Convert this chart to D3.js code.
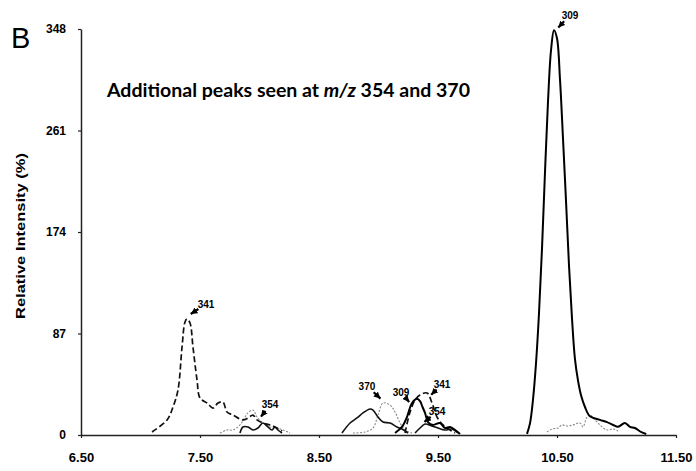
<!DOCTYPE html>
<html>
<head>
<meta charset="utf-8">
<script src="https://cdn.jsdelivr.net/npm/d3@7"></script>
<style>
  body { margin: 0; background: #fff; }
  .tick text { font-family: Arial, "Liberation Sans", sans-serif; font-weight: bold; }
</style>
</head>
<body>
<svg id="chart"></svg>
<script>
// tick values
var xTicks = [6.5, 7.5, 8.5, 9.5, 10.5, 11.5];
var yTicks = [0, 87, 174, 261, 348];

// traces, [time, relative intensity], null = gap
var mz309 = [
  [9.139, 1.7], [9.197, 6.9], [9.239, 15.4], [9.282, 27.4], [9.324, 31], [9.349, 29], [9.37, 24],
  [9.391, 18.9], [9.416, 11.1], [9.458, 8.6], [9.517, 10.3], [9.559, 6.0], [9.601, 6.9],
  [9.643, 4.3], [9.685, 0.9],
  null,
  [10.248, 1], [10.273, 10], [10.298, 30], [10.324, 62], [10.349, 105], [10.374, 160],
  [10.399, 225], [10.424, 285], [10.45, 330], [10.475, 347], [10.5, 340], [10.525, 305],
  [10.55, 255], [10.576, 200], [10.601, 145], [10.626, 100], [10.651, 65], [10.676, 47],
  [10.702, 34], [10.735, 24], [10.777, 16], [10.861, 13], [10.92, 11], [10.971, 8.6],
  [11.013, 7], [11.071, 10.3], [11.113, 7], [11.155, 6], [11.205, 2.6], [11.25, 0.9]
];
var mz341 = [
  [7.097, 2.6], [7.223, 12.9], [7.273, 24.0], [7.315, 38.6], [7.349, 75.4], [7.374, 96.8],
  [7.391, 99.4], [7.416, 96.0], [7.441, 75.4], [7.475, 47.1], [7.5, 31.7], [7.559, 27.4],
  [7.609, 23.1], [7.651, 27.4], [7.693, 28.3], [7.727, 19.7], [7.777, 17.1], [7.861, 12.9],
  [7.903, 14.6], [7.945, 17.1], [7.979, 12.9], [8.029, 10.3], [8.088, 8.6], [8.13, 6.9],
  [8.19, 3.4],
  null,
  [9.223, 1.7], [9.265, 19.7], [9.307, 30.0], [9.349, 34.3], [9.408, 36.0], [9.45, 27.4],
  [9.492, 15.4], [9.542, 8.6], [9.601, 4.3], [9.643, 1.7]
];
var mz354 = [
  [7.836, 1.7], [7.861, 6.9], [7.903, 6.9], [7.945, 4.3], [7.987, 6.0], [8.029, 10.3],
  [8.071, 6.9], [8.105, 4.3], [8.13, 6.9], [8.155, 4.3], [8.189, 1.7],
  null,
  [8.693, 1.7], [8.761, 10.3], [8.819, 14.6], [8.87, 18.9], [8.929, 22.3], [8.954, 21.4],
  [8.996, 15.4], [9.038, 11.1], [9.097, 10.3], [9.155, 6.9], [9.197, 5.1], [9.248, 1.7],
  null,
  [9.307, 1.7], [9.349, 6], [9.391, 9.4], [9.45, 7.7], [9.5, 6], [9.559, 4.3], [9.618, 5.1],
  [9.668, 1.7]
];
var mz370 = [
  [7.668, 1.7], [7.727, 4.3], [7.777, 4.3], [7.836, 8.6], [7.878, 15.4], [7.903, 18.9],
  [7.945, 21.4], [7.979, 15.4], [8.029, 10.3], [8.088, 6.9], [8.147, 6.0], [8.197, 4.3],
  [8.256, 1.7],
  null,
  [8.786, 1.7], [8.887, 2.6], [8.954, 6.0], [8.996, 17.1], [9.038, 27.4], [9.097, 25.7],
  [9.139, 19.7], [9.181, 10.3], [9.223, 4.3], [9.282, 1.7],
  null,
  [10.416, 2.6], [10.458, 5.1], [10.508, 6.0], [10.542, 8.6], [10.584, 7.7], [10.634, 8.6],
  [10.693, 10.3], [10.718, 6.9], [10.752, 15.4], [10.777, 17.1], [10.819, 12.9],
  [10.861, 8.6], [10.92, 4.3], [10.971, 5.1], [11.013, 3.4]
];

// peak labels: text, arrow tip (time, intensity), label offset in px
var annoText = ["341", "354", "370", "309", "341", "354", "309"];
var annoTime = [7.408, 8.004, 9.029, 9.265, 9.433, 9.374, 10.5];
var annoVal  = [102.8, 14.6, 30, 27.4, 33.4, 10.3, 348];
var annoDx   = [17, 10, -15, -9, 12, 14, 13];
var annoDy   = [-11, -13, -14, -11, -12, -11, -14];

var width = 696, height = 471;
var margin = {top: 29, right: 20, bottom: 36, left: 81};

var svg = d3.select("#chart")
    .attr("width", width)
    .attr("height", height);

var x = d3.scaleLinear()
    .domain([6.5, 11.5])
    .range([margin.left, 676]);

var y = d3.scaleLinear()
    .domain([0, 348])
    .range([height - margin.bottom, margin.top]);

var line = d3.line()
    .defined(function(d) { return d !== null; })
    .x(function(d) { return x(d[0]); })
    .y(function(d) { return y(d[1]); })
    .curve(d3.curveCatmullRom.alpha(0.5));

// axes
var xAxis = svg.append("g")
    .attr("transform", "translate(0," + y(0) + ")")
    .call(d3.axisBottom(x)
      .tickValues(xTicks)
      .tickFormat(d3.format(".2f"))
      .tickSize(3)
      .tickSizeOuter(0)
      .tickPadding(15));
xAxis.selectAll("text").style("font-size", "13px");

var yAxis = svg.append("g")
    .attr("transform", "translate(" + x(6.5) + ",0)")
    .call(d3.axisLeft(y)
      .tickValues(yTicks)
      .tickFormat(d3.format("d"))
      .tickSize(3)
      .tickSizeOuter(0)
      .tickPadding(12));
yAxis.selectAll("text").style("font-size", "12px");

svg.selectAll(".domain").style("stroke", "#222").style("stroke-width", 1.5);
svg.selectAll(".tick line").style("stroke", "#222").style("stroke-width", 1.2);

// traces
svg.append("path")
    .datum(mz370)
    .attr("d", line)
    .attr("fill", "none")
    .attr("stroke", "#888")
    .attr("stroke-width", 1.1)
    .attr("stroke-dasharray", "2,1.5");

svg.append("path")
    .datum(mz354)
    .attr("d", line)
    .attr("fill", "none")
    .attr("stroke", "#111")
    .attr("stroke-width", 1.6);

svg.append("path")
    .datum(mz341)
    .attr("d", line)
    .attr("fill", "none")
    .attr("stroke", "#111")
    .attr("stroke-width", 1.7)
    .attr("stroke-dasharray", "6,3");

svg.append("path")
    .datum(mz309)
    .attr("d", line)
    .attr("fill", "none")
    .attr("stroke", "#000")
    .attr("stroke-width", 2);

// arrow head
svg.append("defs").append("marker")
    .attr("id", "head")
    .attr("viewBox", "0 0 10 10")
    .attr("refX", 10)
    .attr("refY", 5)
    .attr("markerWidth", 3)
    .attr("markerHeight", 3)
    .attr("orient", "auto")
  .append("path")
    .attr("d", "M0,0L10,5L0,10z")
    .attr("fill", "#000");

var anno = annoText.map(function(t, i) {
  return {text: t, x: x(annoTime[i]), y: y(annoVal[i]), dx: annoDx[i], dy: annoDy[i]};
});

var ag = svg.selectAll(".anno")
    .data(anno)
    .enter().append("g")
    .attr("class", "anno");

ag.append("line")
    .attr("x1", function(d) { return d.x + d.dx * 0.55; })
    .attr("y1", function(d) { return d.y + d.dy * 0.55; })
    .attr("x2", function(d) { return d.x + d.dx * 0.1; })
    .attr("y2", function(d) { return d.y + d.dy * 0.1; })
    .attr("stroke", "#000")
    .attr("stroke-width", 2.2)
    .attr("marker-end", "url(#head)");

ag.append("text")
    .attr("x", function(d) { return d.x + d.dx; })
    .attr("y", function(d) { return d.y + d.dy; })
    .attr("dy", "0.35em")
    .attr("text-anchor", "middle")
    .style("font-family", "Arial, 'Liberation Sans', sans-serif")
    .style("font-weight", "bold")
    .style("font-size", "10px")
    .text(function(d) { return d.text; });

// panel letter
svg.append("text")
    .attr("x", 11)
    .attr("y", 48)
    .style("font-family", "Arial, 'Liberation Sans', sans-serif")
    .style("font-size", "29px")
    .text("B");

// y axis title
svg.append("text")
    .attr("transform", "translate(25,236) rotate(-90)")
    .attr("text-anchor", "middle")
    .attr("textLength", 166)
    .attr("lengthAdjust", "spacingAndGlyphs")
    .style("font-family", "Arial, 'Liberation Sans', sans-serif")
    .style("font-weight", "bold")
    .style("font-size", "13.5px")
    .text("Relative Intensity (%)");

// note
var note = svg.append("text")
    .attr("x", 107)
    .attr("y", 97)
    .attr("textLength", 363)
    .attr("lengthAdjust", "spacingAndGlyphs")
    .style("font-family", "Lato, 'Open Sans', sans-serif")
    .style("font-weight", "bold")
    .style("font-size", "19px");
note.append("tspan").text("Additional peaks seen at ");
note.append("tspan").style("font-style", "italic").text("m/z");
note.append("tspan").text(" 354 and 370");
</script>
</body>
</html>
